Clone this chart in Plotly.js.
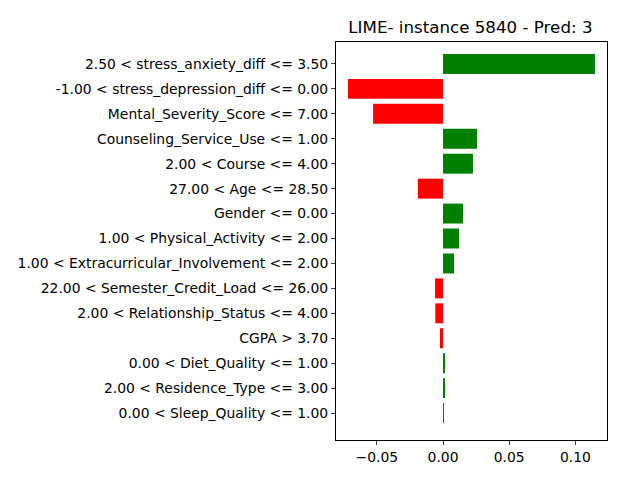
<!DOCTYPE html>
<html>
<head>
<script src="https://cdn.plot.ly/plotly-3.0.1.min.js"></script>
<style>body{margin:0}</style>
</head>
<body>
<div id="chart" style="width:640px;height:480px"></div>
<script>
var features = [
  '2.50 < stress_anxiety_diff <= 3.50',
  '-1.00 < stress_depression_diff <= 0.00',
  'Mental_Severity_Score <= 7.00',
  'Counseling_Service_Use <= 1.00',
  '2.00 < Course <= 4.00',
  '27.00 < Age <= 28.50',
  'Gender <= 0.00',
  '1.00 < Physical_Activity <= 2.00',
  '1.00 < Extracurricular_Involvement <= 2.00',
  '22.00 < Semester_Credit_Load <= 26.00',
  '2.00 < Relationship_Status <= 4.00',
  'CGPA > 3.70',
  '0.00 < Diet_Quality <= 1.00',
  '2.00 < Residence_Type <= 3.00',
  '0.00 < Sleep_Quality <= 1.00'
];
var weights = [0.1147, -0.0717, -0.0528, 0.0257, 0.0226, -0.0189, 0.0151, 0.0121,
  0.0083, -0.0060, -0.0058, -0.0023, 0.0015, 0.0012, 0.0004];

var pos = features.map(function (f, i) { return i; });
var colors = weights.map(function (w) { return w > 0 ? 'green' : 'red'; });

var trace = {
  type: 'bar',
  orientation: 'h',
  x: weights,
  y: pos,
  width: 0.8,
  marker: {color: colors},
  hoverinfo: 'none'
};

var layout = {
  width: 640,
  height: 480,
  margin: {l: 336, r: 33, t: 42, b: 40},
  paper_bgcolor: 'white',
  plot_bgcolor: 'white',
  font: {family: 'DejaVu Sans', size: 13.9, color: 'black'},
  title: {text: 'LIME- instance 5840 - Pred: 3', x: 0.735, xanchor: 'center', y: 0.955, font: {size: 16.7}},
  showlegend: false,
  xaxis: {
    range: [-0.0808, 0.1238],
    tickvals: [-0.05, 0, 0.05, 0.1],
    ticktext: ['\u22120.05', '0.00', '0.05', '0.10'],
    ticks: 'outside', ticklen: 4, showgrid: false, zeroline: false,
    showline: true, linecolor: 'black', mirror: true, linewidth: 1,
    tickfont: {size: 13.9}
  },
  yaxis: {
    range: [15.08, -0.88],
    tickvals: pos,
    ticktext: features,
    ticks: 'outside', ticklen: 4, showgrid: false, zeroline: false,
    showline: true, linecolor: 'black', mirror: true, linewidth: 1,
    tickfont: {size: 13.9}
  }
};

Plotly.newPlot('chart', [trace], layout, {displayModeBar: false});
</script>
</body>
</html>
